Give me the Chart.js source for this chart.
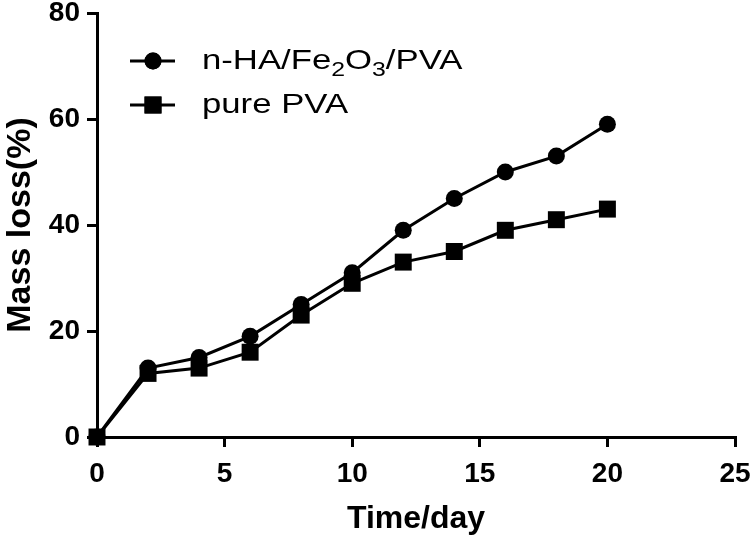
<!DOCTYPE html>
<html>
<head>
<meta charset="utf-8">
<script src="https://cdn.jsdelivr.net/npm/chart.js@4/dist/chart.umd.min.js"></script>
<style>
  html, body { margin: 0; padding: 0; background: #fff; }
  #wrap { width: 750px; height: 538px; }
</style>
</head>
<body>
<div id="wrap"><canvas id="chart"></canvas></div>
<script>
const days = [0, 2, 4, 6, 8, 10, 12, 14, 16, 18, 20];
const compositeLoss = [0, 13, 15, 19, 25, 31, 39, 45, 50, 53, 59];
const pureLoss = [0, 12, 13, 16, 23, 29, 33, 35, 39, 41, 43];
const xTicks = [0, 5, 10, 15, 20, 25];
const yTicks = [0, 20, 40, 60, 80];

const FONT = "'Liberation Sans', Arial, sans-serif";

function toPoints(values) {
  return days.map((d, i) => ({ x: d, y: values[i] }));
}

// legend with subscript text, drawn by hand (text in the picture is a bit wide)
const legendPlugin = {
  id: 'subLegend',
  afterDraw(chart) {
    const ctx = chart.ctx;
    const rows = [
      { meta: 0, y: 61, parts: [['n-HA/Fe', 0], ['2', 1], ['O', 0], ['3', 1], ['/PVA', 0]] },
      { meta: 1, y: 105, parts: [['pure PVA', 0]] }
    ];
    ctx.save();
    rows.forEach(row => {
      const ds = chart.data.datasets[row.meta];
      ctx.strokeStyle = '#000';
      ctx.lineWidth = 3;
      ctx.beginPath();
      ctx.moveTo(130, row.y);
      ctx.lineTo(175, row.y);
      ctx.stroke();
      Chart.helpers.drawPoint(ctx, {
        pointStyle: ds.pointStyle,
        radius: ds.pointRadius,
        borderWidth: 0
      }, 153, row.y);
      ctx.fillStyle = '#000';
      ctx.fill();

      ctx.save();
      ctx.translate(202, row.y + 8);
      ctx.scale(1.24, 1);
      ctx.textBaseline = 'alphabetic';
      let x = 0;
      row.parts.forEach(([txt, sub]) => {
        ctx.font = sub ? `20px ${FONT}` : `28px ${FONT}`;
        ctx.fillText(txt, x, sub ? 7 : 0);
        x += ctx.measureText(txt).width;
      });
      ctx.restore();
    });
    ctx.restore();
  }
};

new Chart(document.getElementById('chart'), {
  type: 'line',
  data: {
    datasets: [
      {
        label: 'n-HA/Fe2O3/PVA',
        data: toPoints(compositeLoss),
        borderColor: '#000',
        backgroundColor: '#000',
        borderWidth: 3,
        pointStyle: 'circle',
        pointRadius: 8.5,
        pointBorderWidth: 0,
        order: 1,
        clip: false
      },
      {
        label: 'pure PVA',
        data: toPoints(pureLoss),
        borderColor: '#000',
        backgroundColor: '#000',
        borderWidth: 3,
        pointStyle: 'rect',
        pointRadius: 12,
        pointBorderWidth: 0,
        order: 0,
        clip: false
      }
    ]
  },
  options: {
    responsive: true,
    maintainAspectRatio: false,
    animation: false,
    layout: { padding: { left: 0, right: 15, top: 13, bottom: 0 } },
    plugins: {
      legend: { display: false },
      tooltip: { enabled: false }
    },
    scales: {
      x: {
        type: 'linear',
        min: 0,
        max: 25,
        afterBuildTicks: s => { s.ticks = xTicks.map(v => ({ value: v })); },
        afterFit: s => {
          s.height = 101;
          s.paddingLeft = 0;
          s.paddingRight = 0;
        },
        ticks: { color: '#000', font: { family: FONT, size: 28, weight: 'bold' }, padding: 10, maxRotation: 0 },
        grid: { drawOnChartArea: false, color: '#000', lineWidth: 3, tickLength: 10 },
        border: { color: '#000', width: 3 },
        title: {
          display: true,
          text: 'Time/day',
          color: '#000',
          font: { family: FONT, size: 32, weight: 'bold' },
          padding: { top: 0, bottom: 0 }
        }
      },
      y: {
        min: 0,
        max: 80,
        afterBuildTicks: s => { s.ticks = yTicks.map(v => ({ value: v })); },
        afterFit: s => {
          s.width = 97;
          s.paddingTop = 0;
          s.paddingBottom = 0;
        },
        ticks: { color: '#000', font: { family: FONT, size: 28, weight: 'bold' }, padding: 7 },
        grid: { drawOnChartArea: false, color: '#000', lineWidth: 3, tickLength: 10 },
        border: { color: '#000', width: 3 },
        title: {
          display: true,
          text: 'Mass loss(%)',
          color: '#000',
          font: { family: FONT, size: 34, weight: 'bold' },
          padding: { top: 0, bottom: 0 }
        }
      }
    }
  },
  plugins: [legendPlugin]
});
</script>
</body>
</html>
